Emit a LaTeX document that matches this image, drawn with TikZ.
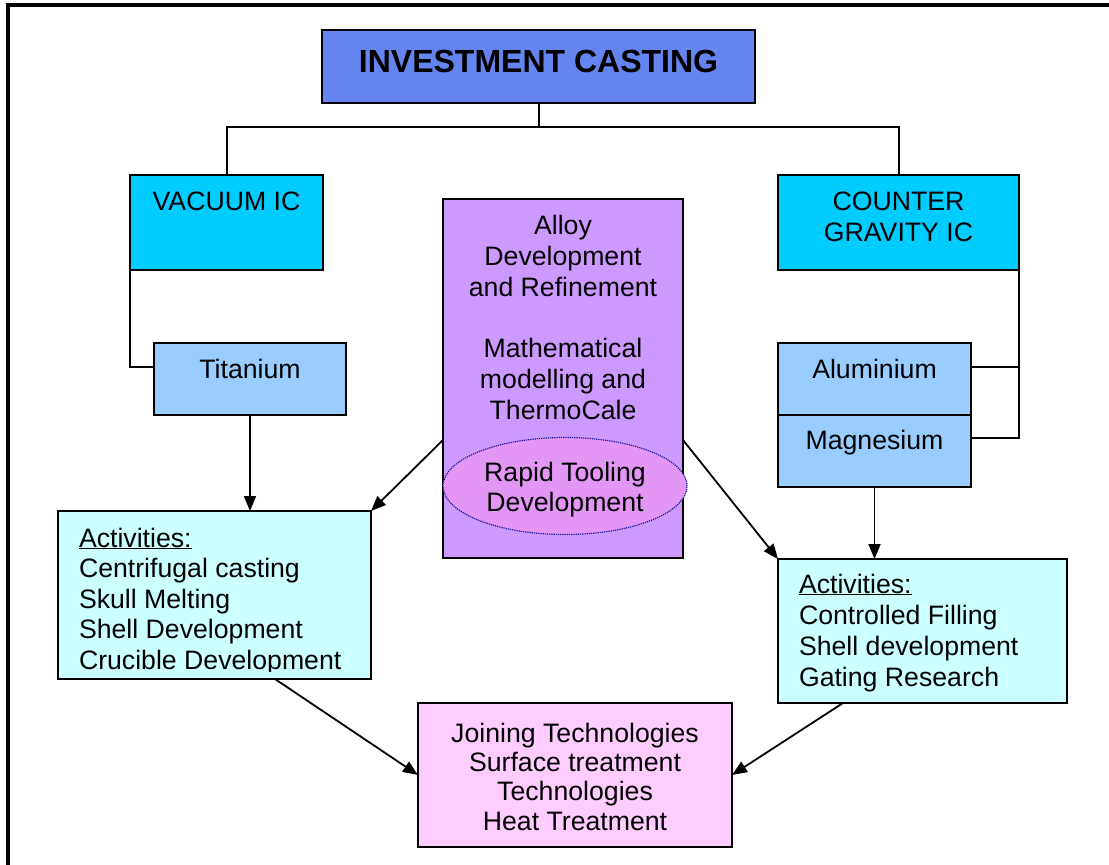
\documentclass[tikz,border=0pt]{standalone}
\usepackage{fontspec}
\setmainfont{Liberation Sans}
\usetikzlibrary{arrows.meta,shapes.geometric}
\definecolor{titleblue}{RGB}{100,132,240}
\definecolor{icblue}{RGB}{0,204,255}
\definecolor{metalblue}{RGB}{153,204,255}
\definecolor{alloypurple}{RGB}{204,153,255}
\definecolor{toolpink}{RGB}{228,150,246}
\definecolor{actcyan}{RGB}{204,255,255}
\definecolor{finpink}{RGB}{255,204,255}
\definecolor{dotblue}{RGB}{20,20,150}
\begin{document}
\begin{tikzpicture}[x=1pt,y=-1pt,
  box/.style={draw=black,line width=2.2pt,inner sep=0pt,outer sep=0pt,anchor=north west},
  lbl/.style={inner sep=0pt,outer sep=0pt,anchor=base,align=center,
    font=\fontsize{26.67}{31}\selectfont},
  lbll/.style={inner sep=0pt,outer sep=0pt,anchor=base west,align=left,
    font=\fontsize{26.67}{30.5}\selectfont},
  link/.style={line width=2pt},
  arr/.style={line width=1.8pt,-{Triangle[length=15pt,width=12pt]}}]
\useasboundingbox (0,0) rectangle (1109,865);

% frame (only top and left edges fall inside the page)
\draw[line width=3.5pt] (8,870) -- (8,5) -- (1115,5);

% boxes
\node[box,fill=titleblue,minimum width=433pt,minimum height=73pt] (title) at (322,30) {};
\node[box,fill=icblue,minimum width=193pt,minimum height=95pt] (vac) at (130,175) {};
\node[box,fill=icblue,minimum width=241pt,minimum height=95pt] (cg) at (778,175) {};
\node[box,fill=metalblue,minimum width=192pt,minimum height=72pt] (ti) at (154,343) {};
\node[box,fill=metalblue,minimum width=193pt,minimum height=72pt] (al) at (778,343) {};
\node[box,fill=metalblue,minimum width=193pt,minimum height=72pt] (mg) at (778,415) {};
\node[box,fill=alloypurple,minimum width=240pt,minimum height=359pt] (alloy) at (443,199) {};
\node[ellipse,draw=dotblue,densely dotted,line width=1.2pt,fill=toolpink,
      inner sep=0pt,outer sep=0pt,minimum width=244pt,minimum height=97pt] (rt) at (565,486) {};
\node[box,fill=actcyan,minimum width=313pt,minimum height=168pt] (actL) at (58,511) {};
\node[box,fill=actcyan,minimum width=289pt,minimum height=144pt] (actR) at (778,559) {};
\node[box,fill=finpink,minimum width=314pt,minimum height=144pt] (fin) at (418,703) {};

% labels (multi-line labels are anchored at the baseline of their last line)
\node[inner sep=0pt,anchor=base,font=\fontsize{32}{38}\selectfont\bfseries] (titleT) at (538.5,72) {INVESTMENT CASTING};
\node[lbl] (vacT) at (226.5,210) {VACUUM IC};
\node[lbl] (cgT) at (898.5,241) {COUNTER\\GRAVITY IC};
\node[lbl] (tiT) at (250,378) {Titanium};
\node[lbl] (alT) at (874.5,378) {Aluminium};
\node[lbl] (mgT) at (874.5,449) {Magnesium};
\node[lbl] (alloyT) at (563,296) {Alloy\\Development\\and Refinement};
\node[lbl] (mathT) at (563,419) {Mathematical\\modelling and\\ThermoCale};
\node[lbl,font=\fontsize{26.67}{30}\selectfont] (rtT) at (565,511) {Rapid Tooling\\Development};
\begin{scope}
  \clip (58,511) rectangle (371,671);
  \node[lbll] (actLT) at (79,669) {\underline{Activities:}\\Centrifugal casting\\Skull Melting\\Shell Development\\Crucible Development};
\end{scope}
\node[lbll,font=\fontsize{26.67}{31}\selectfont] (actRT) at (799,686) {\underline{Activities:}\\Controlled Filling\\Shell development\\Gating Research};
\node[lbl,font=\fontsize{26.67}{29.3}\selectfont] (finT) at (575,830) {Joining Technologies\\Surface treatment\\Technologies\\Heat Treatment};

% tree connectors
\draw[link] (title.south) -- ++(0,24) -| (vac.north);
\draw[link] (title.south) -- ++(0,24) -| (cg.north);
\draw[link] (vac.south west) |- ([yshift=12pt]ti.west);
\draw[link] ([yshift=12pt]al.east) -| (cg.south east);
\draw[link] ([yshift=13pt]mg.east) -| (cg.south east);

% arrows
\draw[arr] (ti.south) -- (ti.south |- actL.north);
\draw[arr] (mg.south) -- (mg.south |- actR.north);
\draw[arr] ([yshift=-61.5pt]alloy.west) -- (actL.north east);
\draw[arr] ([yshift=-61.5pt]alloy.east) -- (actR.north west);
\draw[arr] ([xshift=60.5pt]actL.south) -- (fin.west);
\draw[arr] ([xshift=-79.5pt]actR.south) -- (fin.east);
\end{tikzpicture}
\end{document}
